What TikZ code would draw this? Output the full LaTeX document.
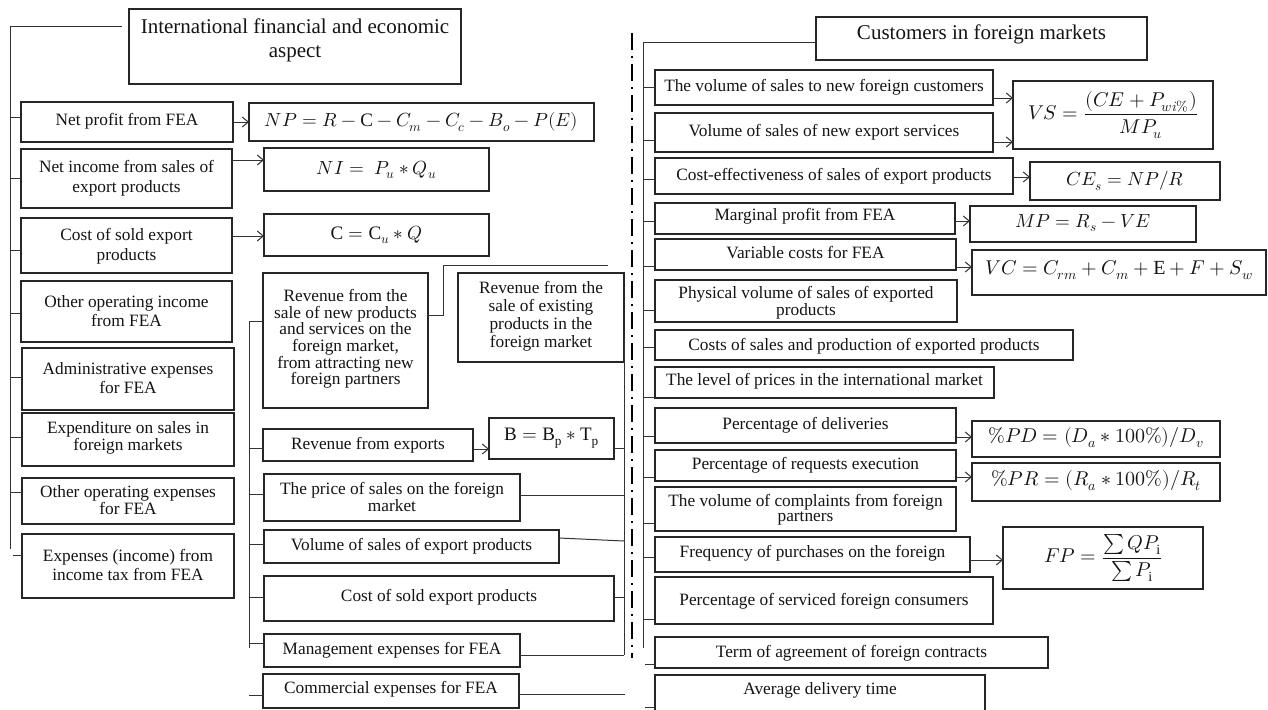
\documentclass[tikz,border=0pt]{standalone}
\usepackage{amsmath}
\usepackage{fontspec}
\usepackage{unicode-math}
\setmainfont{Liberation Serif}
\usetikzlibrary{arrows.meta,fit,calc}
\tikzset{
 box/.style={draw=black!85, line width=1.2pt, inner sep=0pt, outer sep=0pt},
 txt/.style={inner sep=0pt, align=center, font=\fontsize{17.3}{19.5}\selectfont, text=black!92},
 tight/.style={font=\fontsize{17.3}{16.7}\selectfont},
 ttl/.style={font=\fontsize{21}{24}\selectfont},
 fml/.style={font=\fontsize{19}{23}\selectfont},
 fmlb/.style={font=\fontsize{20}{24}\selectfont},
 ln/.style={draw=black!80, line width=1pt},
 arr/.style={ln, -{Straight Barb[length=6pt,width=10pt]}},
 dd/.style={draw=black, line width=2pt, dash pattern=on 17pt off 6pt on 2pt off 6pt},
}
\newcommand\bx[8]{\node[box,fit={(#2,#3)(#4,#5)}] (#1) {};
 \node[txt,#7] (#1t) at (#1.center |- 0,#6) {#8};}
\begin{document}
\begin{tikzpicture}[x=1pt,y=-1pt]
\fill[white] (0,0) rectangle (1268,709);
\useasboundingbox (0,0) rectangle (1268,709);
% left column
\bx{L0}{129}{9}{461}{84}{40}{ttl}{International financial and economic\\aspect}
\bx{L1}{21}{102}{233}{142}{121}{}{Net profit from FEA}
\bx{L2}{21}{149}{232}{208}{178}{}{Net income from sales of\\export products}
\bx{L3}{21}{218}{232}{273}{246}{}{Cost of sold export\\products}
\bx{L4}{21}{281}{232}{342}{311}{}{Other operating income\\from FEA}
\bx{L5}{22}{348}{234}{410}{378}{}{Administrative expenses\\for FEA}
\bx{L6}{22}{413}{234}{466}{438}{tight}{Expenditure on sales in\\foreign markets}
\bx{L7}{22}{478}{234}{524}{500}{tight}{Other operating expenses\\for FEA}
\bx{L8}{22}{534}{234}{598}{565}{}{Expenses (income) from\\income tax from FEA}
% formulas left
\bx{F1}{249}{103}{594}{141}{122}{fml}{$NP = R - \mathrm{C} - C_m - C_c - B_o - P(E)$}
\bx{F2}{264}{148}{489}{191}{170}{fml}{$NI = \; P_u * Q_u$}
\bx{F3}{264}{214}{489}{256}{235}{fml}{$\mathrm{C} = \mathrm{C}_u * Q$}
% middle
\bx{M1}{263}{273}{428}{408}{339}{tight}{Revenue from the\\sale of new products\\and services on the\\foreign market,\\from attracting new\\foreign partners}
\bx{M2}{458}{273}{624}{362}{316}{font=\fontsize{17.3}{18}\selectfont}{Revenue from the\\sale of existing\\products in the\\foreign market}
\bx{M3}{263}{429}{473}{461}{445}{}{Revenue from exports}
\bx{M4}{489}{418}{614}{459}{438}{fml}{$\mathrm{B} = \mathrm{B_p} * \mathrm{T_p}$}
\bx{M5}{264}{474}{520}{521}{497}{tight}{The price of sales on the foreign\\market}
\bx{M6}{264}{530}{559}{563}{546}{}{Volume of sales of export products}
\bx{M7}{264}{576}{614}{621}{597}{}{Cost of sold export products}
\bx{M8}{264}{634}{520}{667}{650}{}{Management expenses for FEA}
\bx{M9}{263}{674}{519}{708}{689}{}{Commercial expenses for FEA}
% right column
\bx{R0}{816}{17}{1147}{60}{34}{ttl}{Customers in foreign markets}
\bx{R1}{655}{70}{993}{105}{87}{}{The volume of sales to new foreign customers}
\bx{R2}{655}{113}{993}{152}{132}{}{Volume of sales of new export services}
\bx{R3}{655}{158}{1013}{194}{176}{}{Cost-effectiveness of sales of export products}
\bx{R4}{655}{203}{955}{234}{216}{}{Marginal profit from FEA}
\bx{R5}{655}{239}{956}{270}{253}{}{Variable costs for FEA}
\bx{R6}{655}{280}{957}{322}{303}{font=\fontsize{17.3}{15}\selectfont}{Physical volume of sales of exported\\products}
\bx{R7}{655}{330}{1073}{360}{346}{}{Costs of sales and production of exported products}
\bx{R8}{655}{367}{994}{398}{381}{}{The level of prices in the international market}
\bx{R9}{655}{408}{956}{443}{425}{}{Percentage of deliveries}
\bx{R10}{655}{450}{956}{481}{465}{}{Percentage of requests execution}
\bx{R11}{655}{487}{956}{531}{510}{font=\fontsize{17.3}{15}\selectfont}{The volume of complaints from foreign\\partners}
\bx{R12}{655}{537}{970}{572}{553}{}{Frequency of purchases on the foreign}
\bx{R13}{655}{577}{993}{624}{601}{}{Percentage of serviced foreign consumers}
\bx{R14}{655}{637}{1048}{668}{653}{}{Term of agreement of foreign contracts}
\bx{R15}{655}{675}{985}{712}{690}{}{Average delivery time}
% formulas right
\bx{VS}{1013}{81}{1213}{149}{115}{fmlb}{$VS = \dfrac{(CE + P_{wi\%})}{MP_u}$}
\bx{CE}{1030}{162}{1220}{200}{181}{fml}{$CE_s = NP/R$}
\bx{MP}{970}{206}{1196}{242}{223}{fml}{$MP = R_s - VE$}
\bx{VC}{972}{250}{1266}{295}{270}{fmlb}{$VC = C_{rm} + C_m + \mathrm{E} + F + S_w$}
\bx{PD}{972}{421}{1220}{457}{438}{fmlb}{$\%PD = (D_a * 100\%)/D_v$}
\bx{PR}{972}{463}{1220}{501}{481}{fmlb}{$\%PR = (R_a * 100\%)/R_t$}
\bx{FP}{1003}{527}{1203}{589}{558}{fmlb}{$FP = \dfrac{\sum QP_{\mathrm{i}}}{\sum P_{\mathrm{i}}}$}
% coordinates for free ends
\coordinate (lt) at (10,27);
\coordinate (lb) at (10,549);
\coordinate (j1) at (443,315);
\coordinate (j2) at (443,265);
\coordinate (j3) at (608,265);
\coordinate (mt) at (249,321);
\coordinate (mb) at (249,648);
\coordinate (ct) at (624,338);
\coordinate (cb) at (624,655);
\coordinate (rt) at (643,43);
\coordinate (rb) at (643,648);
% left connectors
\draw[ln] (lt) -- (lb);
\draw[ln] (lt) -- ($(L0.west |- lt)+(-7,0)$);
\foreach \n/\y in {L1/117,L2/178,L3/250,L4/313,L5/377,L6/437,L7/492}
  \draw[ln] (10,\y) -- (\n.west |- 0,\y);
\draw[ln] (13,555) -- (L8.west |- 0,555);
\draw[arr] (L1.east) -- (F1.west |- L1.east);
\draw[arr] (L2.east |- 0,160) -- (F2.west |- 0,160);
\draw[arr] (L3.east |- 0,236) -- (F3.west |- 0,236);
% middle connectors
\draw[ln] (M1.east |- j1) -- (j1) -- (j2) -- (j3);
\draw[ln] (M1.west |- mt) -- (mt) -- (mb);
\foreach \n/\y in {M3/448,M5/494,M6/544,M7/597,M8/643}
  \draw[ln] (249,\y) -- (\n.west |- 0,\y);
\draw[ln] (249,695) -- (M9.west |- 0,695);
\draw[arr] (M3.east |- 0,449) -- (M4.west |- 0,449);
\draw[ln] (ct) -- (cb);
\draw[ln] (M4.east |- 0,448) -- (624,448);
\draw[ln] (M5.east |- 0,495) -- (624,495);
\draw[ln] (M6.east |- 0,538) -- (624,541);
\draw[ln] (M7.east |- 0,597) -- (624,597);
\draw[ln] (M8.east |- cb) -- (cb);
\draw[ln] (M9.east |- 0,694) -- (625,694);
% dash-dot divider
\draw[dd] (632,33) -- (632,658);
% right connectors
\draw[ln] (rt) -- (rb);
\draw[ln] (rt) -- (R0.west |- rt);
\foreach \n/\y in {R1/87,R2/140,R3/179,R4/221,R5/266,R6/310,R7/347,R8/397,R9/436,R10/477,R11/523,R12/557,R13/619}
  \draw[ln] (643,\y) -- (\n.west |- 0,\y);
\draw[ln] (645,664) -- (R14.west |- 0,664);
\draw[ln] (645,707) -- (R15.west |- 0,707);
\draw[arr] (R1.east |- 0,98) -- (VS.west |- 0,98);
\draw[arr] (R2.east |- 0,142) -- (VS.west |- 0,142);
\draw[arr] (R3.east |- 0,177) -- (CE.west |- 0,177);
\draw[arr] (R4.east |- 0,221) -- (MP.west |- 0,221);
\draw[arr] (R5.east |- 0,267) -- (VC.west |- 0,267);
\draw[arr] (R9.east |- 0,437) -- (PD.west |- 0,437);
\draw[arr] (R10.east |- 0,477) -- (PR.west |- 0,477);
\draw[arr] (R12.east |- 0,560) -- (FP.west |- 0,560);
\end{tikzpicture}
\end{document}
